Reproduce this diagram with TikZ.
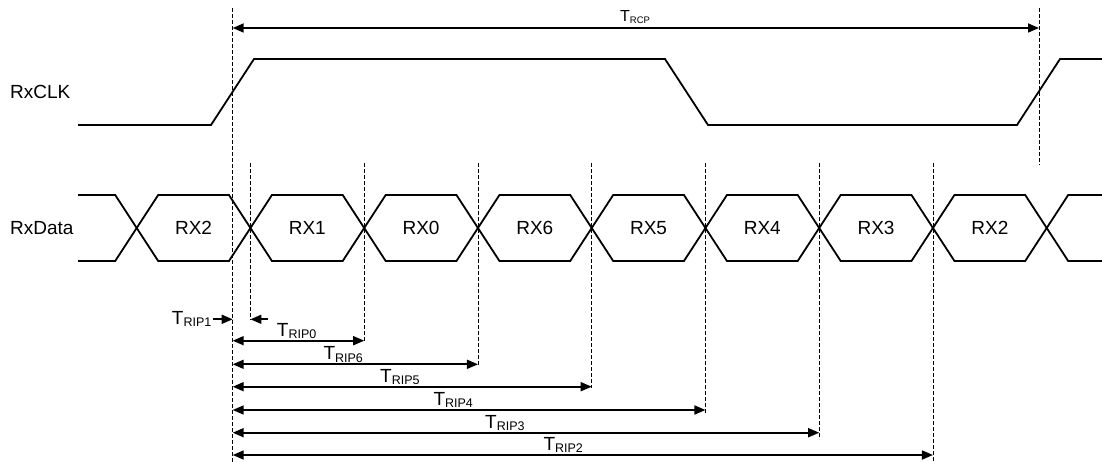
\documentclass[tikz,border=0pt]{standalone}
\usepackage{fontspec}
\setmainfont{Liberation Sans}
\usetikzlibrary{arrows.meta}
% timing symbol: T with a lowered, smaller suffix
\newcommand{\tsym}[1]{T\raisebox{-2.5pt}{\fontsize{12.5}{14}\selectfont #1}}
\newcommand{\tsmall}[1]{{\fontsize{16}{18}\selectfont T\raisebox{-2.3pt}{\fontsize{9.5}{11}\selectfont #1}}}

\begin{document}
\begin{tikzpicture}[x=1pt,y=-1pt,
  signal/.style={line width=1.8pt, line join=miter},
  guide/.style={line width=0.9pt, dash pattern=on 4pt off 2pt},
  tip/.tip={Triangle[length=11pt,width=9pt]},
  dimone/.style={line width=1.7pt, -tip},
  dimboth/.style={line width=1.7pt, tip-tip},
  lbl/.style={inner sep=0pt, font=\fontsize{19}{22}\selectfont, anchor=base west},
]
\useasboundingbox (0,0) rectangle (1102,462);

% reference edge and clock period edge
\coordinate (ref) at (232.7,0);
\coordinate (per) at (1039,0);

% data crossing points
\foreach \k in {0,...,8}
  \coordinate (x\k) at ({136.7+113.75*\k},228);

% signal names
\node[lbl] (clkname) at (10,98.3) {RxCLK};
\node[lbl] (dataname) at (10,235) {RxData};

% clock waveform
\draw[signal] (78,125) -- (211,125) -- (254,59) -- (665,59) -- (708,125)
  -- (1017,125) -- (1060,59) -- (1102,59);

% data eye pattern
\draw[signal] (78,195)
  \foreach \k [evaluate=\k as \a using {136.7+113.75*\k-21.5},
               evaluate=\k as \b using {136.7+113.75*\k+21.5},
               evaluate=\k as \ya using {mod(\k,2)==0 ? 195 : 261},
               evaluate=\k as \yb using {mod(\k,2)==0 ? 261 : 195}] in {0,...,8}
  { -- (\a,\ya) -- (\b,\yb) } -- (1102,261);
\draw[signal] (78,261)
  \foreach \k [evaluate=\k as \a using {136.7+113.75*\k-21.5},
               evaluate=\k as \b using {136.7+113.75*\k+21.5},
               evaluate=\k as \ya using {mod(\k,2)==0 ? 261 : 195},
               evaluate=\k as \yb using {mod(\k,2)==0 ? 195 : 261}] in {0,...,8}
  { -- (\a,\ya) -- (\b,\yb) } -- (1102,195);

% data labels
\foreach \t [count=\i from 0] in {RX2,RX1,RX0,RX6,RX5,RX4,RX3,RX2}
  \node[lbl, anchor=base] (d\i) at ({136.7+113.75*\i+56.875},234.5) {\t};

% dashed guides
\draw[guide] (ref |- 0,8) -- (ref |- 0,462);
\draw[guide] (per |- 0,8) -- (per |- 0,165);
\draw[guide] (x1 |- 0,163) -- (x1 |- 0,320);
\draw[guide] (x2 |- 0,163) -- (x2 |- 0,342);
\draw[guide] (x3 |- 0,163) -- (x3 |- 0,366);
\draw[guide] (x4 |- 0,163) -- (x4 |- 0,388);
\draw[guide] (x5 |- 0,163) -- (x5 |- 0,414);
\draw[guide] (x6 |- 0,163) -- (x6 |- 0,439);
\draw[guide] (x7 |- 0,163) -- (x7 |- 0,462);

% clock period
\draw[dimboth] (ref |- 0,28) -- (per |- 0,28);
\node[inner sep=0pt, anchor=base west] (trcp) at (620,21.7) {\tsmall{RCP}};

% input path timings
\coordinate (r1s) at (213,319.3);
\coordinate (r1e) at (268,319.3);
\draw[dimone] (r1s) -- (ref |- r1s);
\draw[dimone] (r1e) -- (x1 |- r1e);
\node[lbl] (trip1) at (171.7,324.3) {\tsym{RIP1}};

\draw[dimboth] (ref |- 0,340.7) -- (x2 |- 0,340.7);
\node[lbl] (trip0) at (276.7,336) {\tsym{RIP0}};

\draw[dimboth] (ref |- 0,364.3) -- (x3 |- 0,364.3);
\node[lbl] (trip6) at (323.3,359.6) {\tsym{RIP6}};

\draw[dimboth] (ref |- 0,386.7) -- (x4 |- 0,386.7);
\node[lbl] (trip5) at (380,382) {\tsym{RIP5}};

\draw[dimboth] (ref |- 0,410) -- (x5 |- 0,410);
\node[lbl] (trip4) at (433.3,405.3) {\tsym{RIP4}};

\draw[dimboth] (ref |- 0,432.7) -- (x6 |- 0,432.7);
\node[lbl] (trip3) at (485,428) {\tsym{RIP3}};

\draw[dimboth] (ref |- 0,455) -- (x7 |- 0,455);
\node[lbl] (trip2) at (543.3,450.3) {\tsym{RIP2}};
\end{tikzpicture}
\end{document}
